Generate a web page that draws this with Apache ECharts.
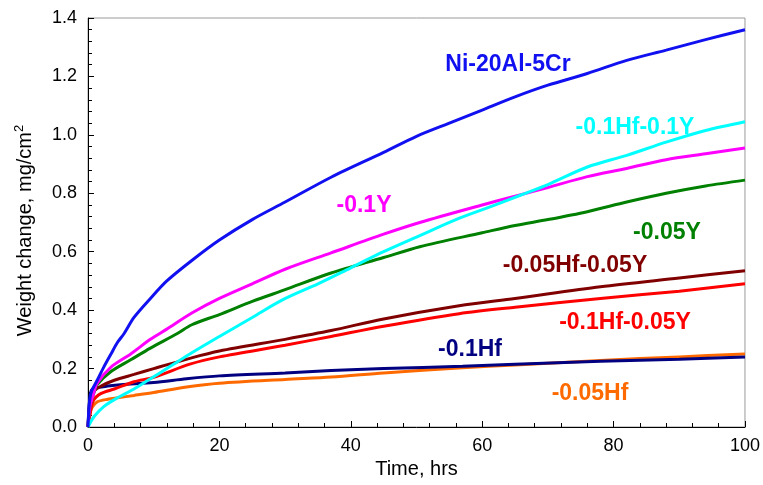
<!DOCTYPE html>
<html><head><meta charset="utf-8">
<script src="https://cdn.jsdelivr.net/npm/echarts@6/dist/echarts.min.js"></script>
<style>html,body{margin:0;padding:0;background:#fff}#c{width:763px;height:485px}</style>
</head><body><div id="c"></div>
<script>
// Time (hrs) and weight change (mg/cm2)
const blueT = [0,0.2,0.5,1.4,2.4,3.5,4.5,5.5,7,9.5,12,15.8,20,25,30,37,45,50,55,60,65,70,76,82,88,94,100];
const blueV = [0,0.08,0.12,0.16,0.205,0.25,0.29,0.32,0.375,0.44,0.5,0.57,0.64,0.71,0.77,0.855,0.94,0.995,1.04,1.085,1.13,1.17,1.21,1.255,1.29,1.326,1.36];
const cyanT = [0,0.9,2.4,4.5,7,9.5,12,15.5,20,25,29.6,35,40,45,50,56,62,66,70,76,82,88,94,100];
const cyanV = [0,0.035,0.07,0.1,0.13,0.165,0.2,0.25,0.31,0.375,0.435,0.49,0.545,0.6,0.65,0.71,0.76,0.795,0.83,0.89,0.93,0.975,1.015,1.045];
const magT = [0,0.3,0.8,1.4,3.5,6.5,9.5,12,15.8,20,25,30,37,45,50.5,60,65,70,76,82,88,94,100];
const magV = [0,0.07,0.11,0.15,0.205,0.25,0.3,0.335,0.39,0.44,0.49,0.54,0.596,0.66,0.7,0.76,0.79,0.82,0.857,0.885,0.915,0.935,0.955];
const grnT = [0,0.3,0.8,1.4,3.5,6.5,9.5,13.6,15.8,20,25,30,37,45,50.5,60,65,70,76,82,88,94,100];
const grnV = [0,0.07,0.11,0.145,0.19,0.23,0.27,0.32,0.35,0.385,0.43,0.47,0.527,0.58,0.617,0.665,0.69,0.71,0.737,0.77,0.8,0.825,0.845];
const drT = [0,0.3,0.8,2,4,7,10,15.5,20,30,37,45,56.5,65,78,90,100];
const drV = [0,0.08,0.12,0.14,0.16,0.18,0.2,0.235,0.26,0.3,0.33,0.37,0.415,0.44,0.48,0.51,0.535];
const redT = [0,0.3,0.8,2,4,7,10,15.5,20,30,37,45,56.5,65,78,90,100];
const redV = [0,0.04,0.09,0.115,0.13,0.155,0.17,0.215,0.24,0.28,0.31,0.345,0.388,0.41,0.44,0.465,0.49];
const navT = [0,0.2,0.5,1,3,5,10,15,20,30,37,45,57,65,78,90,100];
const navV = [0,0.08,0.125,0.133,0.14,0.145,0.152,0.165,0.175,0.185,0.193,0.2,0.208,0.215,0.225,0.232,0.24];
const orgT = [0,0.3,0.7,1.4,3,4.5,7,10,15,20,30,37,45,57,65,78,90,100];
const orgV = [0,0.05,0.07,0.086,0.095,0.1,0.108,0.118,0.137,0.15,0.163,0.171,0.185,0.203,0.212,0.228,0.24,0.25];

const seriesNames = ['-0.05Hf','-0.1Hf','-0.1Hf-0.05Y','-0.05Hf-0.05Y','-0.05Y','-0.1Y','-0.1Hf-0.1Y','Ni-20Al-5Cr'];
const seriesT = [orgT,navT,redT,drT,grnT,magT,cyanT,blueT];
const seriesV = [orgV,navV,redV,drV,grnV,magV,cyanV,blueV];
const colors = ['#ff6a00','#000080','#ff0000','#800000','#008000','#ff00ff','#00ffff','#1010f0'];

const labelPos = [[590,394],[470,350],[625,323],[575,266],[667,233],[364,206],[635,128],[508,65]];

const chart = echarts.init(document.getElementById('c'));
const FONT = 'Liberation Sans, Arial, sans-serif';
chart.setOption({
  animation:false,
  grid:{left:88,right:17,top:18,bottom:58,show:true,borderColor:'#999',borderWidth:1,backgroundColor:'transparent'},
  xAxis:{type:'value',min:0,max:100,interval:20,
    name:'Time, hrs',nameLocation:'middle',nameGap:31,
    nameTextStyle:{fontFamily:FONT,fontSize:20,color:'#000'},
    axisLine:{lineStyle:{color:'#000',width:1}},
    axisTick:{inside:true,length:6,lineStyle:{color:'#000'}},
    minorTick:{show:true,splitNumber:5,length:4,lineStyle:{color:'#000'}},
    axisLabel:{fontFamily:FONT,fontSize:18,color:'#000',margin:10},
    splitLine:{show:false}},
  yAxis:{type:'value',min:0,max:1.4,interval:0.2,
    name:'{a|Weight change, mg/cm}{s|2}',nameLocation:'middle',nameGap:51,
    nameTextStyle:{padding:[0,16,0,0],rich:{a:{fontFamily:FONT,fontSize:20,color:'#000'},s:{fontFamily:FONT,fontSize:13,color:'#000',verticalAlign:'bottom',padding:[0,0,11,0]}}},
    axisLine:{lineStyle:{color:'#000',width:1}},
    axisTick:{inside:true,length:6,lineStyle:{color:'#000'}},
    minorTick:{show:true,splitNumber:5,length:4,lineStyle:{color:'#000'}},
    axisLabel:{fontFamily:FONT,fontSize:18,color:'#000',margin:11,formatter:v=>v.toFixed(1)},
    splitLine:{show:false}},
  series: seriesNames.map((n,i)=>({
    name:n,type:'line',showSymbol:false,symbol:'none',smooth:0.3,
    lineStyle:{color:colors[i],width:3},
    data: seriesT[i].map((t,j)=>[t,seriesV[i][j]])
  })),
  graphic: seriesNames.map((n,i)=>({
    type:'text',x:labelPos[i][0],y:labelPos[i][1],
    style:{text:n,fill:colors[i],font:'bold 23px '+FONT,textAlign:'center',textVerticalAlign:'middle'}
  }))
});
</script></body></html>
